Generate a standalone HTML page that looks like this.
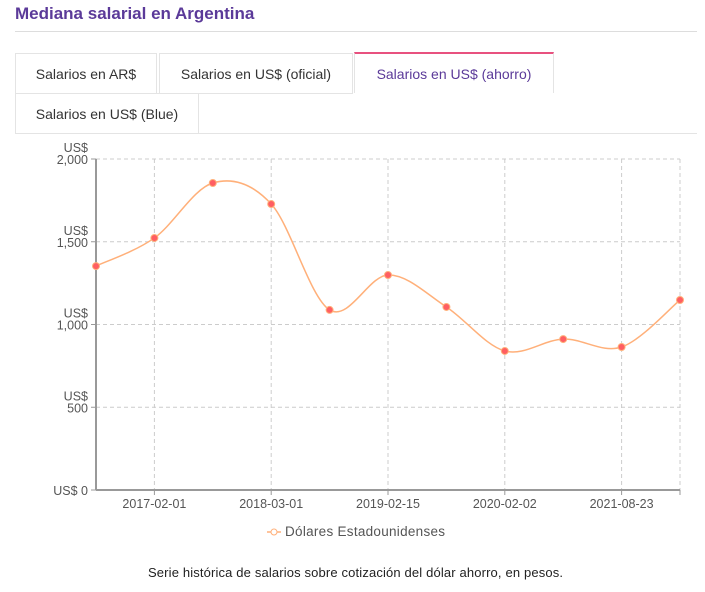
<!DOCTYPE html>
<html><head><meta charset="utf-8"><style>
body{margin:0;width:705px;height:592px;background:#fff;font-family:"Liberation Sans",sans-serif;position:relative;overflow:hidden}
.title{position:absolute;left:15px;top:4px;font-size:17px;font-weight:bold;color:#5b3a99}
.hr{position:absolute;left:15px;width:682px;top:31px;height:1px;background:#ddd}
.tab{position:absolute;box-sizing:border-box;border:1px solid #e4e4e4;font-size:14px;color:#333;display:flex;align-items:center;justify-content:center;background:#fff}
.active{border-top:2px solid #e8517f;color:#5b3a99;border-bottom:none}
svg{position:absolute;left:0;top:0}
</style></head><body>
<div class="title">Mediana salarial en Argentina</div>
<div class="hr"></div>
<div class="tab" style="left:15px;top:53px;width:142px;height:41px">Salarios en AR$</div>
<div class="tab" style="left:159px;top:53px;width:194px;height:41px">Salarios en US$ (oficial)</div>
<div class="tab active" style="left:354px;top:52px;width:200px;height:41px">Salarios en US$ (ahorro)</div>
<div class="tab" style="left:15px;top:93px;width:184px;height:41px">Salarios en US$ (Blue)</div>
<div style="position:absolute;left:199px;top:133px;width:498px;height:1px;background:#e4e4e4"></div>
<svg id="chart" width="705" height="592"></svg>
<script>
const categories=["2016-08-01","2017-02-01","2017-08-15","2018-03-01","2018-08-15","2019-02-15","2019-08-15","2020-02-02","2020-11-01","2021-08-23","2022-02-01"];
const values=[1353,1523,1855,1728,1088,1299,1106,840,912,864,1148];
const yTicks=[0,500,1000,1500,2000];
const yTickLabels=["US$ 0","US$\n500","US$\n1,000","US$\n1,500","US$\n2,000"];
const labelEvery=2;

const svg=document.getElementById('chart');
const NS='http://www.w3.org/2000/svg';
const X0=96,X1=680,Y0=490,Y1=159,YMAX=2000;
const xs=i=>X0+(X1-X0)*i/(categories.length-1);
const ys=v=>Y0-(Y0-Y1)*v/YMAX;
function mk(t,a){const e=document.createElementNS(NS,t);for(const k in a)e.setAttribute(k,a[k]);svg.appendChild(e);return e;}
yTicks.forEach((t,i)=>{
  const y=ys(t);
  if(t>0){const g=mk('line',{x1:X0,x2:X1,y1:y,y2:y,stroke:'#ccc','stroke-dasharray':'4,3'});
  
  }
  const parts=yTickLabels[i].split('\n');
  parts.forEach((p,j)=>{
    const tx=mk('text',{x:88,y:y+5-(parts.length-1-j)*12,'text-anchor':'end','font-size':'12.5',fill:'#555'});
    tx.textContent=p;
    
    
  });
  const tk=mk('line',{x1:X0-5,x2:X0,y1:y,y2:y,stroke:'#999'});
  
  
});
categories.forEach((c,i)=>{
  if(i%labelEvery!==1)return;
  const x=xs(i);
  const g=mk('line',{x1:x,x2:x,y1:Y1,y2:Y0,stroke:'#ccc','stroke-dasharray':'4,3'});
  
  
  const tk=mk('line',{x1:x,x2:x,y1:Y0,y2:Y0+5,stroke:'#999'});
  
  
  const tx=mk('text',{x:x,y:Y0+18,'text-anchor':'middle','font-size':'12.5',fill:'#555'});
  tx.textContent=c;
  
  
});
const rg=mk('line',{x1:X1,x2:X1,y1:Y1,y2:Y0,stroke:'#ccc','stroke-dasharray':'4,3'});


const tg=mk('line',{x1:X0,x2:X1,y1:Y1,y2:Y1,stroke:'#ccc','stroke-dasharray':'4,3'});


const ax=mk('line',{x1:X0,x2:X0,y1:Y1,y2:Y0,stroke:'#999','stroke-width':2});


const bx=mk('line',{x1:X0,x2:X1,y1:Y0,y2:Y0,stroke:'#999','stroke-width':2});


const et=mk('line',{x1:X1,x2:X1,y1:Y0,y2:Y0+5,stroke:'#999'});


const P=values.map((v,i)=>[xs(i),ys(v)]);
let d=`M${P[0][0]},${P[0][1]}`;
for(let i=0;i<P.length-1;i++){
  const p0=P[Math.max(0,i-1)],p1=P[i],p2=P[i+1],p3=P[Math.min(P.length-1,i+2)];
  const c1=[p1[0]+(p2[0]-p0[0])/6,p1[1]+(p2[1]-p0[1])/6];
  const c2=[p2[0]-(p3[0]-p1[0])/6,p2[1]-(p3[1]-p1[1])/6];
  d+=` C${c1[0]},${c1[1]} ${c2[0]},${c2[1]} ${p2[0]},${p2[1]}`;
}
const ln=mk('path',{d:d,fill:'none',stroke:'#ffb07a','stroke-width':1.5});


P.forEach(p=>{
  const c=mk('circle',{cx:p[0],cy:p[1],r:3.5,fill:'#ff5e62',stroke:'#ffb07a','stroke-width':1});
  
  
});
const lg=mk('line',{x1:267,x2:281,y1:532,y2:532,stroke:'#ffb07a','stroke-width':1.5});


const lc=mk('circle',{cx:274,cy:532,r:3,fill:'#fff',stroke:'#ffb07a'});


const lt=mk('text',{x:285,y:536,'font-size':'13.5',fill:'#555',textLength:'160'});
lt.textContent='Dólares Estadounidenses';


const cap=mk('text',{x:148,y:577,'font-size':'13','textLength':'415',fill:'#222'});
cap.textContent='Serie histórica de salarios sobre cotización del dólar ahorro, en pesos.';


</script>
</body></html>
